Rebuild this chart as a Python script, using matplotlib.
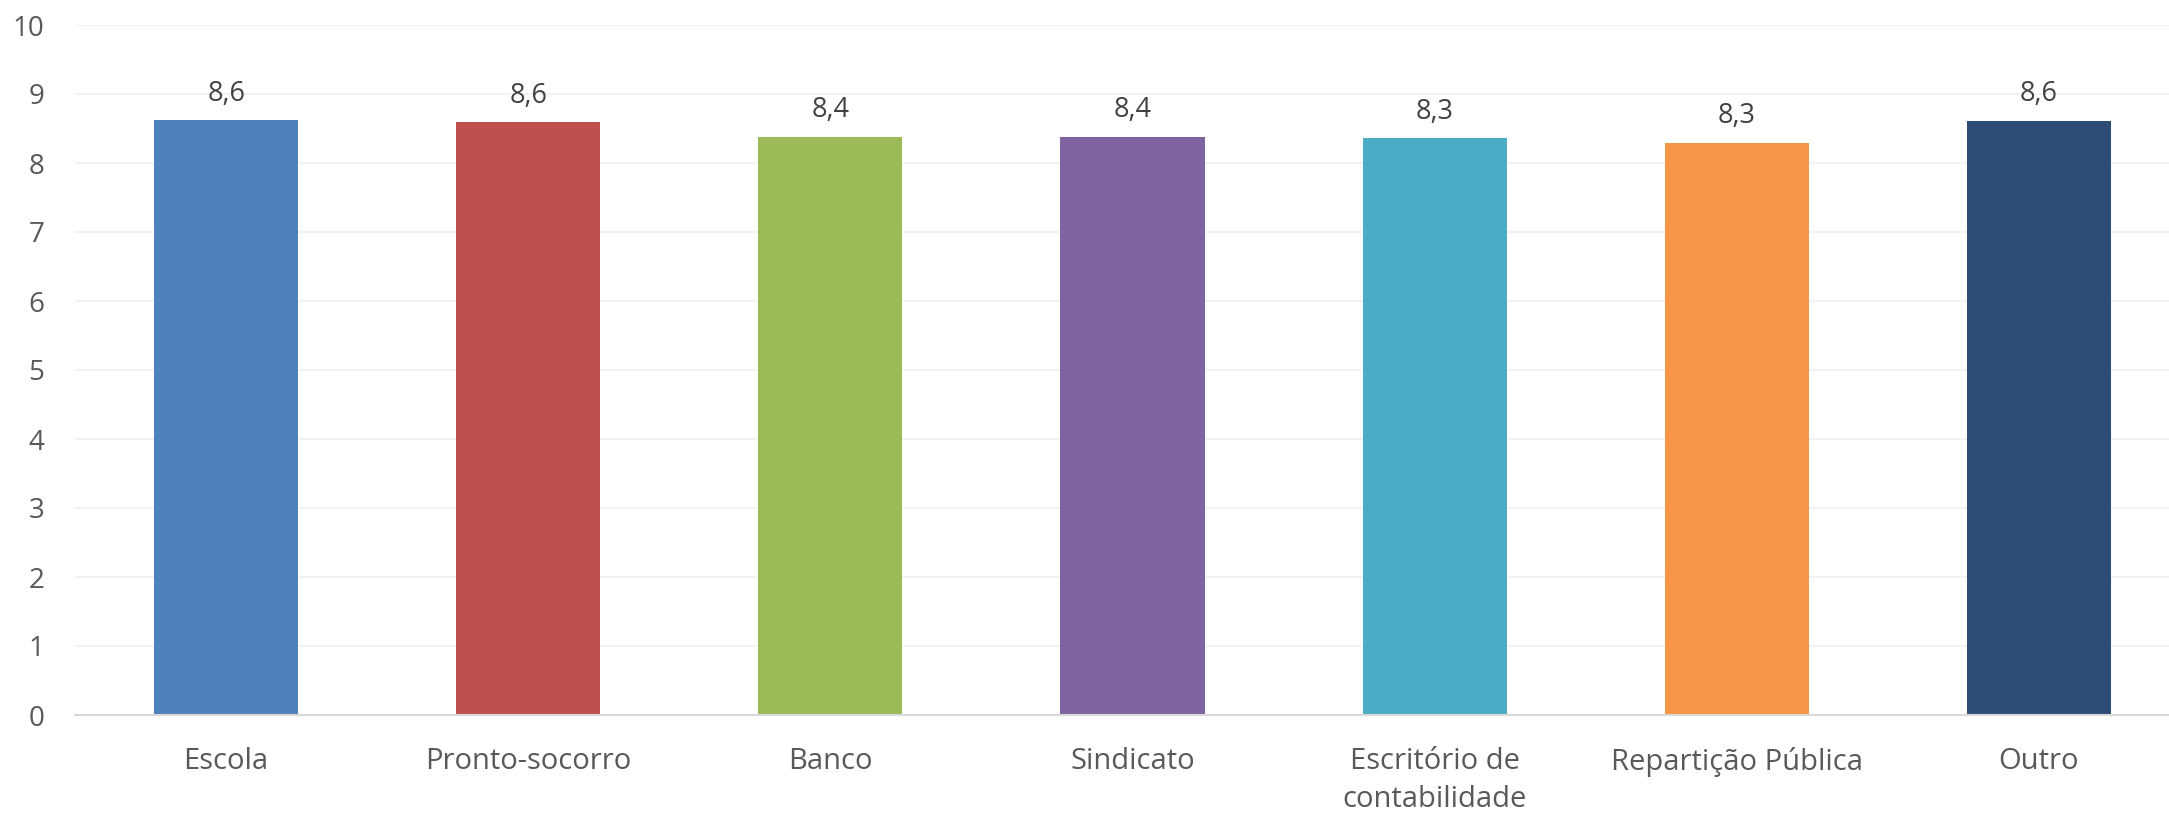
import matplotlib
matplotlib.use("Agg")
import matplotlib.pyplot as plt

categories = ["Escola", "Pronto-socorro", "Banco", "Sindicato",
              "Escritório de\ncontabilidade", "Repartição Pública", "Outro"]
values = [8.62, 8.59, 8.38, 8.38, 8.36, 8.29, 8.61]
value_labels = ["8,6", "8,6", "8,4", "8,4", "8,3", "8,3", "8,6"]
colors = ["#4F81BD", "#C0504D", "#9BBB59", "#8064A2", "#4BACC6", "#F79646", "#2C4D75"]
yticks = list(range(0, 11))

plt.rcParams['font.family'] = ['Open Sans', 'DejaVu Sans']

W, H = 2169, 818
fig = plt.figure(figsize=(W / 100, H / 100), dpi=100)
left, right, top, bottom = 75, 2190, 25, 715
ax = fig.add_axes([left / W, (H - bottom) / H, (right - left) / W, (bottom - top) / H])

x = list(range(len(categories)))
ax.bar(x, values, width=0.477, color=colors, zorder=3)

ax.set_xlim(-0.5, len(categories) - 0.5)
ax.set_ylim(0, 10)
ax.set_yticks(yticks)
ax.set_yticklabels([str(t) for t in yticks])
ax.set_xticks(x)
ax.set_xticklabels(categories, linespacing=1.42, va='top', fontsize=21)

ax.grid(axis='y', color='#F2F2F2', linewidth=1.5, zorder=0)
for s in ['top', 'right', 'left']:
    ax.spines[s].set_visible(False)
ax.spines['bottom'].set_color('#D9D9D9')
ax.spines['bottom'].set_linewidth(1.5)
ax.spines['bottom'].set_zorder(4)

ax.tick_params(axis='both', length=0, labelcolor='#595959')
ax.tick_params(axis='y', pad=22, labelsize=20)
ax.tick_params(axis='x', pad=23)

for xi, v, lab in zip(x, values, value_labels):
    ax.annotate(lab, (xi, v), xytext=(0, 9), textcoords='offset points',
                ha='center', va='bottom', fontsize=19.5, color='#404040')

fig.savefig("out.png", dpi=100)
